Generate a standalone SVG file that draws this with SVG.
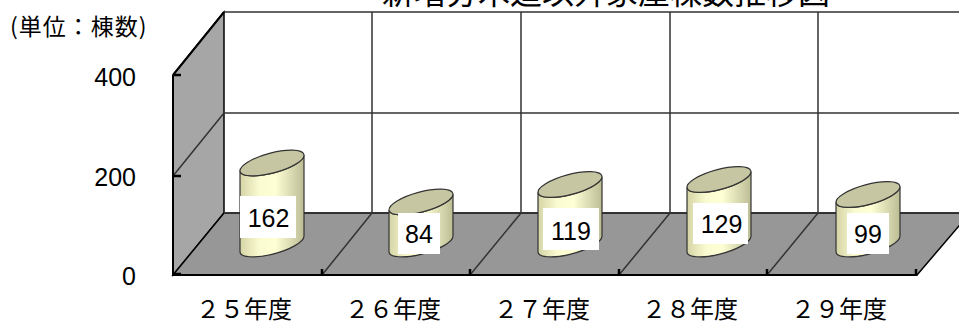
<svg xmlns="http://www.w3.org/2000/svg" width="959" height="325" viewBox="0 0 959 325">
<defs>
<style>
.jp{font-family:"Noto Sans CJK JP","Noto Sans",sans-serif;fill:#000}
.num{font-family:"Liberation Sans",Arial,sans-serif;fill:#000}
.grid{stroke:#333;stroke-width:1.5;fill:none}
.axis{stroke:#000;stroke-width:2;fill:none}
.body{fill:url(#cyl);stroke:#333;stroke-width:1.2}
.top{fill:#c6c6a2;stroke:#333;stroke-width:1.2}
.lbl{fill:#fff}
</style>
<linearGradient id="cyl" x1="0" y1="0" x2="1" y2="0">
<stop offset="0" stop-color="#d4d4a6"/>
<stop offset="0.3" stop-color="#fbfbd2"/>
<stop offset="0.55" stop-color="#ffffd6"/>
<stop offset="1" stop-color="#bdbd95"/>
</linearGradient>
</defs>
<rect width="959" height="325" fill="#fff"/>
<text class="jp" x="606" y="4" font-size="32" text-anchor="middle">新増分木造以外家屋棟数推移図</text>
<g id="chart-walls">
<polygon points="173,75 224,12 224,213 173,275" fill="#a6a6a6" stroke="#000" stroke-width="1.5"/>
<polygon points="173,275 224,213 970,213 917,275" fill="#979797" stroke="#000" stroke-width="1.5"/>
<path class="grid" d="M224,12H960 M224,113H960 M224,213H960 M372,12V213 M521,12V213 M670,12V213 M818,12V213 M173,176L224,113"/>
<path class="grid" stroke="#000" d="M322,275L372,213 M470,275L521,213 M619,275L670,213 M767,275L818,213"/>
<path class="axis" d="M173,75V275H917 M173,75L224,12"/>
<path stroke="#000" stroke-width="2.5" d="M173,75H181 M173,176H181 M173,274H181 M322,269V276 M470,269V276 M619,269V276 M767,269V276 M916,269V276"/>
</g>
<g id="axis-labels">
<text class="jp" x="10" y="35" font-size="23" letter-spacing="1">(単位：棟数)</text>
<text class="num" x="136" y="86" font-size="25" text-anchor="end">400</text>
<text class="num" x="136" y="186" font-size="25" text-anchor="end">200</text>
<text class="num" x="136" y="285" font-size="25" text-anchor="end">0</text>
<text class="jp" x="244" y="318" font-size="24" text-anchor="middle">２５年度</text>
<text class="jp" x="393" y="318" font-size="24" text-anchor="middle">２６年度</text>
<text class="jp" x="542" y="318" font-size="24" text-anchor="middle">２７年度</text>
<text class="jp" x="690" y="318" font-size="24" text-anchor="middle">２８年度</text>
<text class="jp" x="839" y="318" font-size="24" text-anchor="middle">２９年度</text>
</g>
<g id="bar-25">
<path class="body" d="M240,170.7 L240,251.7 A33 10 -15 0 0 304,236.3 L304,155.3 A33 10 -15 0 1 240,170.7 Z"/>
<ellipse class="top" rx="33" ry="10" transform="translate(272,163) rotate(-15)"/>
<rect class="lbl" x="240" y="196" width="56" height="42"/>
<text class="num" x="268.5" y="227" font-size="25" text-anchor="middle">162</text>
</g>
<g id="bar-26">
<path class="body" d="M389,209.7 L389,251.7 A33 10 -15 0 0 453,236.3 L453,194.3 A33 10 -15 0 1 389,209.7 Z"/>
<ellipse class="top" rx="33" ry="10" transform="translate(421,202) rotate(-15)"/>
<rect class="lbl" x="398" y="213" width="42" height="41"/>
<text class="num" x="419" y="243" font-size="25" text-anchor="middle">84</text>
</g>
<g id="bar-27">
<path class="body" d="M538,192.2 L538,251.7 A33 10 -15 0 0 602,236.3 L602,176.8 A33 10 -15 0 1 538,192.2 Z"/>
<ellipse class="top" rx="33" ry="10" transform="translate(570,184.5) rotate(-15)"/>
<rect class="lbl" x="543" y="208" width="56" height="42"/>
<text class="num" x="571" y="240" font-size="25" text-anchor="middle">119</text>
</g>
<g id="bar-28">
<path class="body" d="M687,187.2 L687,251.7 A33 10 -15 0 0 751,236.3 L751,171.8 A33 10 -15 0 1 687,187.2 Z"/>
<ellipse class="top" rx="33" ry="10" transform="translate(719,179.5) rotate(-15)"/>
<rect class="lbl" x="693" y="203" width="55" height="41"/>
<text class="num" x="721.5" y="233" font-size="25" text-anchor="middle">129</text>
</g>
<g id="bar-29">
<path class="body" d="M836,202.2 L836,251.7 A33 10 -15 0 0 900,236.3 L900,186.8 A33 10 -15 0 1 836,202.2 Z"/>
<ellipse class="top" rx="33" ry="10" transform="translate(868,194.5) rotate(-15)"/>
<rect class="lbl" x="847" y="213" width="42" height="41"/>
<text class="num" x="868" y="243" font-size="25" text-anchor="middle">99</text>
</g>
</svg>
